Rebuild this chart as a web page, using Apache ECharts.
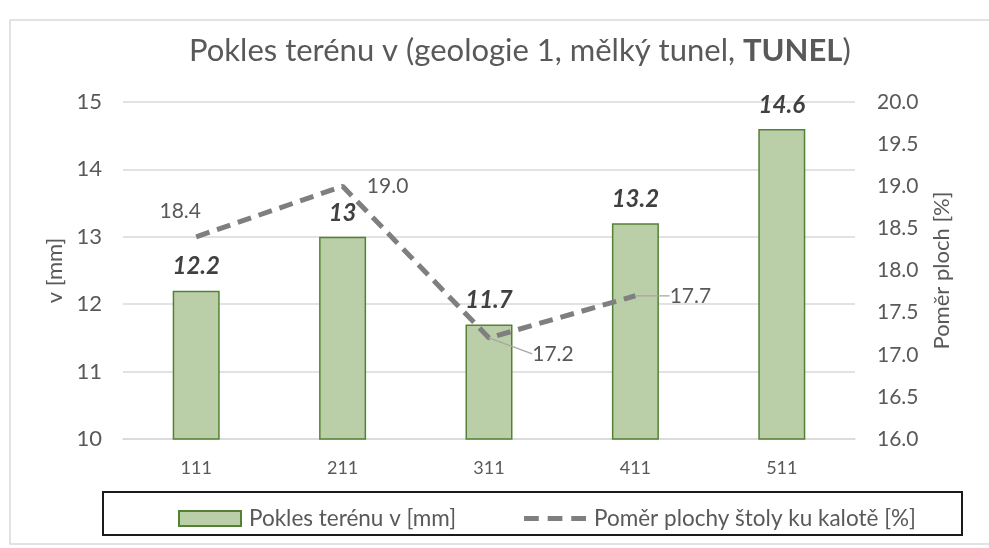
<!DOCTYPE html>
<html>
<head>
<meta charset="utf-8">
<script src="https://cdn.jsdelivr.net/npm/echarts@6/dist/echarts.min.js"></script>
<style>
html, body { margin: 0; padding: 0; background: #fff; }
#main { width: 989px; height: 548px; }
</style>
</head>
<body>
<div id="main"></div>
<script>
// data
var categories = ['111', '211', '311', '411', '511'];
var poklesValues = [12.2, 13, 11.7, 13.2, 14.6];
var pomerValues = [18.4, 19.0, 17.2, 17.7, null];
var seriesNames = ['Pokles terénu v [mm]', 'Poměr plochy štoly ku kalotě [%]'];

var FONT = 'Lato';
var GREY = '#595959';

// label centre shift from the point (dx, dy in px) and whether a leader line is drawn
var lineLabelShift = [[-16, -26], [45, 0], [64, 16], [55, 0]];
var lineLabelLeader = [false, false, true, true];

var pomerData = pomerValues.map(function (v, i) {
	return { value: v, labelLine: { show: !!lineLabelLeader[i] } };
});

var chart = echarts.init(document.getElementById('main'));
chart.setOption({
	animation: false,
	textStyle: { fontFamily: FONT },
	title: {
		text: 'Pokles terénu v (geologie 1, mělký tunel, {b|TUNEL})',
		left: 184,
		top: 30,
		textStyle: {
			fontFamily: FONT,
			fontSize: 31,
			fontWeight: 'normal',
			color: GREY,
			rich: { b: { fontFamily: FONT, fontSize: 31, fontWeight: 'bold', color: GREY } }
		}
	},
	graphic: [
		{ type: 'rect', shape: { x: 10, y: 20, width: 990, height: 524 }, style: { fill: 'none', stroke: '#d9d9d9', lineWidth: 1.5 }, silent: true },
		{ type: 'rect', shape: { x: 103, y: 492, width: 859, height: 43 }, style: { fill: 'none', stroke: '#1a1a1a', lineWidth: 2 }, silent: true }
	],
	grid: { left: 123, right: 134, top: 102, bottom: 109 },
	legend: {
		data: [
			{ name: seriesNames[0], icon: 'path://M0,0h62v15h-62z' },
			{ name: seriesNames[1], icon: 'path://M0,0h15v5h-15z M24,0h15v5h-15z M48,0h15v5h-15z' }
		],
		top: 502,
		left: 173,
		itemWidth: 62,
		itemHeight: 15,
		itemGap: 68,
		symbolKeepAspect: true,
		textStyle: { fontFamily: FONT, fontSize: 22.5, color: GREY, padding: [0, 0, 0, 3] }
	},
	xAxis: {
		type: 'category',
		data: categories,
		axisTick: { show: false },
		axisLine: { lineStyle: { color: '#d9d9d9', width: 1.5 } },
		axisLabel: { color: GREY, fontSize: 18, margin: 20 }
	},
	yAxis: [
		{
			type: 'value',
			min: 10, max: 15, interval: 1,
			name: 'v [mm]',
			nameLocation: 'middle',
			nameGap: 54,
			nameTextStyle: { color: GREY, fontSize: 22, fontFamily: FONT },
			axisLabel: { color: GREY, fontSize: 22, margin: 21 },
			splitLine: { lineStyle: { color: '#d9d9d9', width: 1.5 } }
		},
		{
			type: 'value',
			min: 16, max: 20, interval: 0.5,
			name: 'Poměr ploch [%]',
			nameLocation: 'middle',
			nameGap: 76,
			nameRotate: 90,
			nameTextStyle: { color: GREY, fontSize: 22, fontFamily: FONT },
			axisLabel: { color: GREY, fontSize: 21, margin: 22, formatter: function (v) { return v.toFixed(1); } },
			splitLine: { show: false }
		}
	],
	series: [
		{
			name: seriesNames[0],
			type: 'bar',
			data: poklesValues,
			barWidth: 47,
			itemStyle: { color: '#bacfa8', borderColor: '#548235', borderWidth: 1.5 },
			label: {
				show: true,
				position: 'top',
				distance: 12,
				fontFamily: FONT,
				fontSize: 24,
				fontWeight: 'bold',
				fontStyle: 'italic',
				color: '#404040'
			}
		},
		{
			name: seriesNames[1],
			type: 'line',
			yAxisIndex: 1,
			data: pomerData,
			symbol: 'circle',
			symbolSize: 0.01,
			showSymbol: true,
			lineStyle: { color: '#7f7f7f', width: 5, type: [14, 8] },
			itemStyle: { color: '#7f7f7f' },
			label: {
				show: true,
				position: 'inside',
				fontFamily: FONT,
				fontSize: 21,
				color: GREY,
				formatter: function (p) { return p.value.toFixed(1); }
			},
			labelLine: { show: true, lineStyle: { color: '#a6a6a6', width: 1.2 } },
			labelLayout: function (p) {
				var s = lineLabelShift[p.dataIndex] || [0, 0];
				return { dx: s[0], dy: s[1] };
			}
		}
	]
});
</script>
</body>
</html>
